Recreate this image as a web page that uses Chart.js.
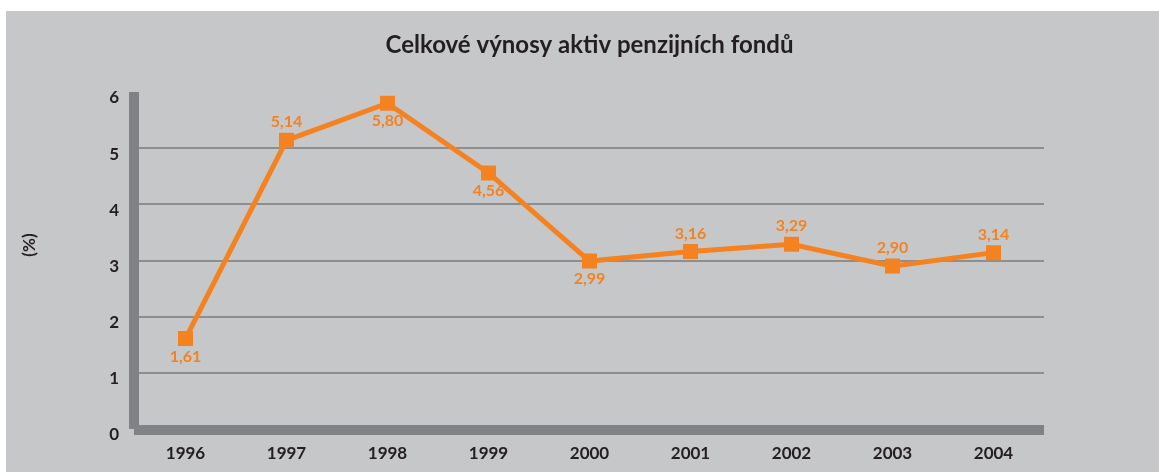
<!DOCTYPE html>
<html>
<head>
<meta charset="utf-8">
<script src="https://cdn.jsdelivr.net/npm/chart.js@4.4.0/dist/chart.umd.min.js"></script>
<style>
  html, body { margin: 0; padding: 0; background: #ffffff; }
  #wrap { width: 1159px; height: 472px; }
</style>
</head>
<body>
<div id="wrap"><canvas id="yieldChart" width="1159" height="472"></canvas></div>
<script>
// Total returns of pension fund assets, %
const years = ["1996", "1997", "1998", "1999", "2000", "2001", "2002", "2003", "2004"];
const yields = [1.61, 5.14, 5.80, 4.56, 2.99, 3.16, 3.29, 2.90, 3.14];
const yTicks = [0, 1, 2, 3, 4, 5, 6];
// where each value label sits relative to its marker
const labelSides = ["below", "above", "below", "below", "below", "above", "above", "above", "above"];

const ORANGE = "#f58220";
const INK = "#231f20";
const PANEL = "#c6c7c9";
const BAR = "#808285";
const FONT = "Lato, 'DejaVu Sans', sans-serif";

const frame = {
  id: "frame",
  beforeDraw(chart) {
    const ctx = chart.ctx;
    const area = chart.chartArea;
    ctx.save();
    ctx.fillStyle = "#ffffff";
    ctx.fillRect(0, 0, chart.width, chart.height);
    ctx.fillStyle = PANEL;
    ctx.fillRect(6, 11, chart.width - 6, chart.height - 11);

    // title
    ctx.fillStyle = INK;
    ctx.font = "bold 24px " + FONT;
    ctx.textAlign = "center";
    ctx.textBaseline = "middle";
    ctx.fillText("Celkové výnosy aktiv penzijních fondů", (area.left + area.right) / 2, 45);

    // unit label
    ctx.translate(30, 245);
    ctx.rotate(-Math.PI / 2);
    ctx.font = "bold 17px " + FONT;
    ctx.fillText("(%)", 0, 0);
    ctx.restore();
  },
  beforeDatasetsDraw(chart) {
    const ctx = chart.ctx;
    const y = chart.scales.y;
    const area = chart.chartArea;
    const top = y.getPixelForValue(6);
    const zero = y.getPixelForValue(0);
    ctx.save();
    ctx.fillStyle = BAR;
    // thick axis bars
    ctx.fillRect(area.left - 6, top, 10, zero - top);
    ctx.fillRect(area.left - 1, zero - 4, area.right - area.left + 1, 10);
    ctx.restore();
  },
  afterDatasetsDraw(chart) {
    const ctx = chart.ctx;
    const pts = chart.getDatasetMeta(0).data;
    ctx.save();
    ctx.fillStyle = ORANGE;
    ctx.font = "bold 16px " + FONT;
    ctx.textAlign = "center";
    ctx.textBaseline = "middle";
    pts.forEach((p, i) => {
      const dy = labelSides[i] === "above" ? -18 : 18;
      ctx.fillText(yields[i].toFixed(2).replace(".", ","), p.x, p.y + dy);
    });
    ctx.restore();
  }
};

new Chart(document.getElementById("yieldChart").getContext("2d"), {
  type: "line",
  data: {
    labels: years,
    datasets: [{
      data: yields,
      borderColor: ORANGE,
      backgroundColor: ORANGE,
      borderWidth: 5,
      tension: 0,
      pointStyle: "rect",
      pointRadius: 10.6,
      pointBorderWidth: 0,
      pointBackgroundColor: ORANGE,
    }],
  },
  options: {
    responsive: false,
    animation: false,
    layout: { padding: { left: 0, top: 92, right: 115, bottom: 0 } },
    plugins: {
      legend: { display: false },
      tooltip: { enabled: false },
    },
    scales: {
      x: {
        offset: true,
        grid: { display: false, drawTicks: false },
        border: { display: false },
        ticks: { color: INK, font: { family: FONT, size: 17, weight: "bold" }, padding: 14 },
        afterFit(scale) { scale.height = 43; },
      },
      y: {
        min: yTicks[0],
        max: yTicks[yTicks.length - 1],
        afterBuildTicks(scale) { scale.ticks = yTicks.map((v) => ({ value: v })); },
        grid: {
          drawTicks: false,
          lineWidth: 2,
          color: (c) => (c.tick && (c.tick.value === 0 || c.tick.value === 6) ? "rgba(0,0,0,0)" : "#8d8e90"),
        },
        border: { display: false },
        ticks: { color: INK, font: { family: FONT, size: 17, weight: "bold" }, padding: 16, labelOffset: 6 },
        afterFit(scale) { scale.width = 135; },
      },
    },
  },
  plugins: [frame],
});
</script>
</body>
</html>
